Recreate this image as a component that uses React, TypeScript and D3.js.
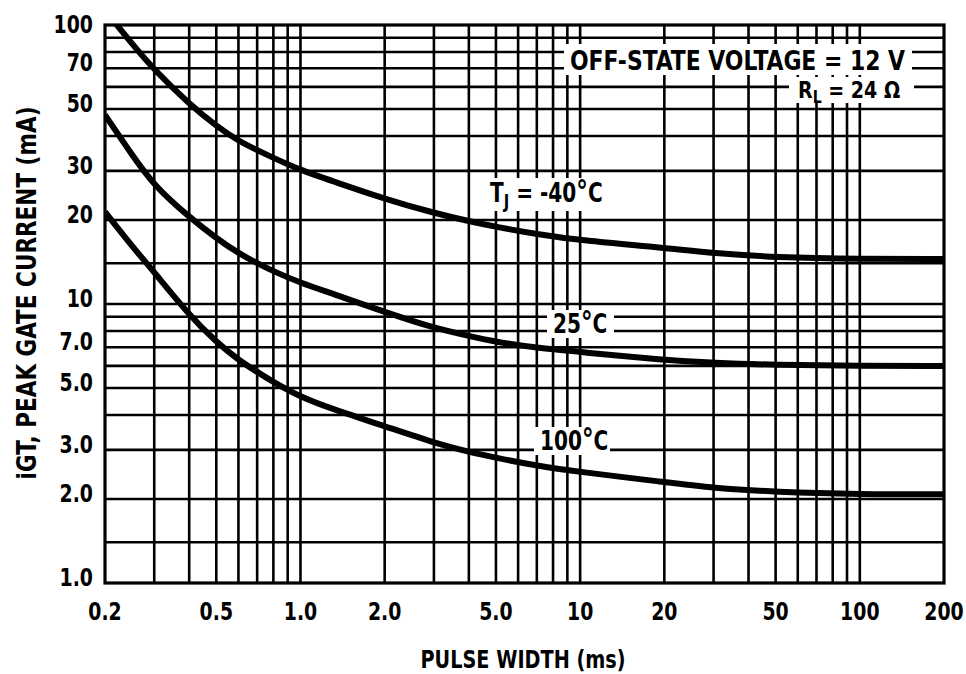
import React from 'react';
import * as d3 from 'd3';

// pulse width (ms) where the curves were read
const pulseWidth = [0.2, 0.25, 0.3, 0.4, 0.5, 0.6, 0.7, 0.8, 1.0, 1.3, 2, 3, 4, 5, 7, 10, 20, 30, 50, 100, 200];
// peak gate current (mA) per junction temperature
const tjMinus40 = [113, 85.5, 69, 52.1, 43.4, 38.4, 35.6, 33.4, 30.2, 27.6, 23.8, 21.2, 19.8, 18.9, 17.8, 16.9, 15.9, 15.2, 14.7, 14.5, 14.5];
const tj25 = [47.6, 34.2, 26.5, 20.5, 17.2, 15.2, 14.0, 13.1, 11.9, 10.9, 9.36, 8.2, 7.68, 7.31, 6.96, 6.73, 6.3, 6.15, 6.05, 6.0, 6.0];
const tj100 = [21.4, 16.1, 13.0, 9.13, 7.31, 6.3, 5.71, 5.25, 4.64, 4.2, 3.65, 3.18, 2.95, 2.81, 2.63, 2.5, 2.3, 2.19, 2.12, 2.08, 2.08];

const xGrid = [0.3, 0.4, 0.5, 0.6, 0.7, 0.8, 0.9, 1, 2, 3, 4, 5, 6, 7, 8, 9, 10, 20, 30, 40, 50, 60, 70, 80, 90, 100];
const yGrid = [1.4, 2, 3, 4, 5, 6, 7, 8, 9, 10, 14, 20, 30, 40, 50, 60, 70, 80, 90];
const xTicks = [0.2, 0.5, 1, 2, 5, 10, 20, 50, 100, 200];
const xTickLabels = ['0.2', '0.5', '1.0', '2.0', '5.0', '10', '20', '50', '100', '200'];
const yTicks = [100, 70, 50, 30, 20, 10, 7, 5, 3, 2, 1];
const yTickLabels = ['100', '70', '50', '30', '20', '10', '7.0', '5.0', '3.0', '2.0', '1.0'];

const FONT = "'Liberation Sans Narrow', 'Arial Narrow', 'DejaVu Sans Condensed', sans-serif";

const W = 966, H = 674;
const L = 105, R = 944, T = 25, B = 583;

// narrowed text, the scan uses a condensed bold face
const NText = ({ x, y, size, anchor = 'start', sx = 0.84, children }: any) => (
  <text transform={`translate(${x},${y}) scale(${sx},1)`} textAnchor={anchor} fontSize={size}>{children}</text>
);

const App = () => {
  const x = d3.scaleLog().domain([0.2, 200]).range([L, R]);
  const y = d3.scaleLog().domain([1, 100]).range([B, T]);

  const line = d3.line<number>()
    .x((_, i) => x(pulseWidth[i]))
    .y(d => y(d))
    .curve(d3.curveBasis);

  const series = [tjMinus40, tj25, tj100];

  return (
    <svg width={W} height={H} style={{ position: 'absolute', left: 0, top: 0, background: '#fff' }}
      fontFamily={FONT} fontWeight="bold">
      <defs>
        <clipPath id="plot"><rect x={L} y={T} width={R - L} height={B - T} /></clipPath>
      </defs>
      <rect width={W} height={H} fill="#fff" />

      {xGrid.map(v => (
        <line key={'x' + v} x1={x(v)} x2={x(v)} y1={T} y2={B} stroke="#000" strokeWidth={2.6} />
      ))}
      {yGrid.map(v => (
        <line key={'y' + v} x1={L} x2={R} y1={y(v)} y2={y(v)} stroke="#000" strokeWidth={2.6} />
      ))}

      {/* white patches behind annotations */}
      <rect x={564} y={44} width={348} height={31} fill="#fff" />
      <rect x={789} y={77} width={125} height={26} fill="#fff" />
      <rect x={484} y={178} width={130} height={33} fill="#fff" />
      <rect x={547} y={310} width={67} height={28} fill="#fff" />
      <rect x={534} y={427} width={76} height={28} fill="#fff" />

      <g clipPath="url(#plot)">
        {series.map((s, i) => (
          <path key={i} d={line(s) || ''} fill="none" stroke="#000" strokeWidth={6} strokeLinejoin="round" />
        ))}
      </g>

      <rect x={L} y={T} width={R - L} height={B - T} fill="none" stroke="#000" strokeWidth={3.2} />

      {xTicks.map((v, i) => (
        <NText key={'xt' + v} x={x(v)} y={620} anchor="middle" size={25}>{xTickLabels[i]}</NText>
      ))}
      {yTicks.map((v, i) => (
        <NText key={'yt' + v} x={93} y={Math.max(y(v) - 6, 24) + 9} anchor="end" size={25}>{yTickLabels[i]}</NText>
      ))}

      <text x={523} y={668} textAnchor="middle" fontSize={25} textLength={205} lengthAdjust="spacingAndGlyphs">PULSE WIDTH (ms)</text>
      <text transform="translate(36,293) rotate(-90)" textAnchor="middle" fontSize={26} textLength={373} lengthAdjust="spacingAndGlyphs">iGT, PEAK GATE CURRENT (mA)</text>

      <text x={570} y={70} fontSize={26} textLength={335} lengthAdjust="spacingAndGlyphs">OFF-STATE VOLTAGE = 12 V</text>
      <NText x={798} y={98} size={23} sx={0.92}>
        R<tspan fontSize={17} dy={5}>L</tspan><tspan dy={-5}> = 24 Ω</tspan>
      </NText>

      <NText x={490} y={202} size={26} sx={0.86}>
        T<tspan fontSize={19} dy={6}>J</tspan><tspan dy={-6}> = -40</tspan><tspan fontSize={30}>°</tspan>C
      </NText>
      <NText x={553} y={333} size={26} sx={0.86}>25<tspan fontSize={30}>°</tspan>C</NText>
      <NText x={540} y={450} size={26} sx={0.86}>100<tspan fontSize={30}>°</tspan>C</NText>
    </svg>
  );
};

export default App;
